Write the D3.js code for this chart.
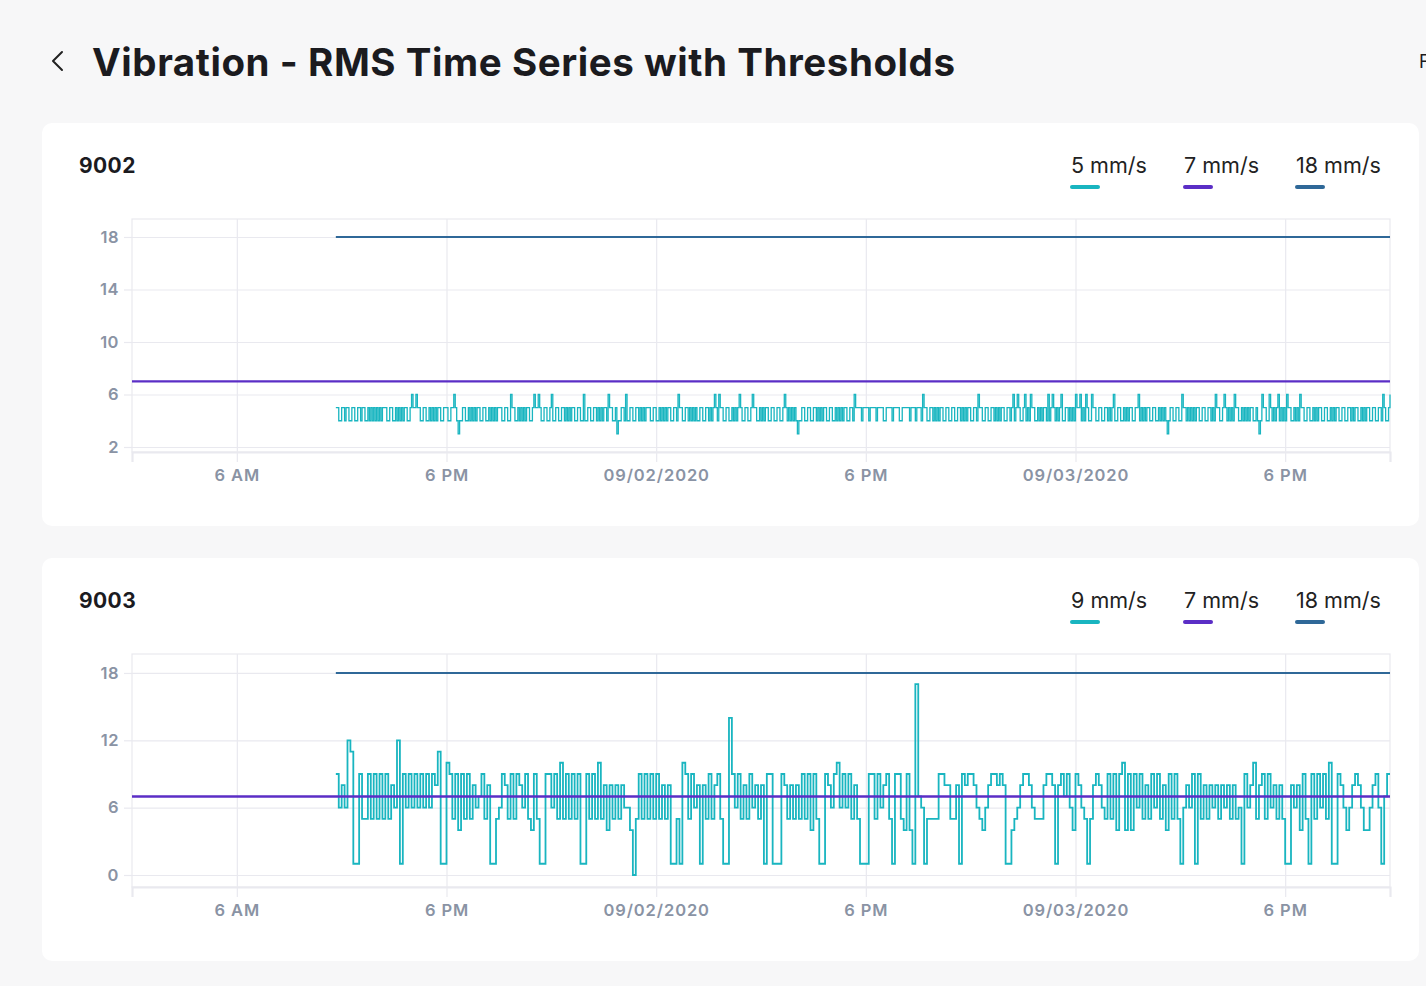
<!DOCTYPE html>
<html><head><meta charset="utf-8">
<script src="https://cdn.jsdelivr.net/npm/d3@7"></script>
<style>
html,body{margin:0;padding:0;background:#f7f7f8;overflow:hidden;}
svg{display:block;}
</style></head><body>
<svg id="c" width="1426" height="986"></svg>
<script>
// ---------- DATA ----------
const pageTitle = "Vibration - RMS Time Series with Thresholds";
const chartNames = ["9002", "9003"];
const xTickTimes = ["2020-09-01T06:00","2020-09-01T18:00","2020-09-02T06:00","2020-09-02T18:00","2020-09-03T06:00","2020-09-03T18:00"];
const xTickLabels = ["6 AM","6 PM","09/02/2020","6 PM","09/03/2020","6 PM"];
const xDomain = ["2020-09-01T00:00","2020-09-04T00:00"];
const sampleStart = "2020-09-01T11:40";
const sampleStep9002 = 5;   // minutes
const sampleStep9003 = 10;  // minutes

const yTicks9002 = [2, 6, 10, 14, 18];
const yTicks9003 = [0, 6, 12, 18];
const yDomain9002 = [1.62, 19.37];
const yDomain9003 = [-1.07, 19.69];

const legend9002 = ["5 mm/s", "7 mm/s", "18 mm/s"];
const legend9003 = ["9 mm/s", "7 mm/s", "18 mm/s"];

const thresholdValues = [7, 18];
const thresholdStarts = ["2020-09-01T00:00", "2020-09-01T11:40"];

const series9002 = [
5,5,4,4,5,5,4,5,5,4,4,5,5,4,4,5,5,4,5,5,4,4,5,4,5,
4,5,4,5,4,5,4,5,5,5,4,4,5,5,4,4,5,4,5,4,5,4,5,5,4,
4,5,6,5,5,6,5,5,4,4,5,5,4,4,5,4,5,4,5,4,5,5,4,4,5,
5,5,4,4,5,5,6,5,4,3,4,4,5,5,4,4,5,4,5,4,5,4,5,5,4,
4,5,5,4,4,5,4,5,4,5,4,5,5,5,4,4,5,5,4,4,6,5,5,4,4,
5,4,5,4,5,4,5,5,4,4,5,6,5,5,6,5,4,4,5,5,4,4,5,6,4,
4,5,5,4,4,5,5,4,5,4,5,4,5,5,4,4,5,5,4,4,6,4,4,5,5,
4,4,5,5,4,5,4,5,4,5,5,4,6,5,5,4,4,5,3,4,4,5,5,4,6,
4,4,5,5,4,4,5,5,4,5,4,5,4,5,5,5,4,4,5,5,4,4,5,4,5,
4,5,4,5,5,4,4,5,5,4,6,5,5,4,4,5,5,4,5,4,5,4,5,4,4,
5,5,4,4,5,5,4,5,4,5,6,5,4,6,5,5,4,4,5,5,4,4,5,4,5,
4,5,6,5,4,4,5,5,4,4,5,6,5,5,4,4,5,4,5,4,5,5,4,4,5,
5,4,4,5,5,4,4,5,6,5,4,5,4,5,4,5,4,3,4,4,5,5,4,4,5,
5,4,4,5,5,4,5,4,5,4,5,5,4,4,5,5,4,4,5,4,5,4,5,4,5,
5,4,4,5,5,4,6,5,5,5,5,4,5,5,5,5,4,5,5,5,5,4,5,5,5,
5,4,4,5,5,5,5,4,5,5,5,5,4,4,5,5,5,5,5,4,5,5,5,4,5,
5,5,4,6,5,5,4,4,5,5,4,5,4,5,4,5,5,4,4,5,5,4,4,5,5,
4,4,5,5,4,5,4,5,4,5,5,4,4,5,5,4,6,5,5,4,4,5,5,4,4,
5,5,4,5,4,5,4,5,5,4,4,5,5,4,5,6,4,5,6,5,4,4,5,6,4,
5,4,6,5,5,4,4,5,4,5,4,5,5,4,6,4,5,6,5,4,5,4,5,6,4,
4,5,5,4,5,4,5,4,6,5,5,6,4,5,4,6,5,4,4,6,5,5,4,4,5,
5,4,4,5,5,4,5,4,5,6,4,4,5,5,4,4,5,4,5,4,5,5,4,4,5,
5,6,4,5,4,5,4,5,5,4,4,5,5,4,4,5,4,5,4,5,4,3,4,5,5,
4,4,5,5,4,4,6,5,5,4,5,4,5,4,5,4,5,5,4,4,5,5,4,4,5,
5,4,5,4,6,5,5,4,4,5,6,5,4,5,4,5,4,6,5,5,4,4,5,4,5,
4,5,4,5,5,4,4,5,4,3,4,6,5,5,4,4,6,5,4,5,4,5,6,4,5,
4,5,4,6,5,5,4,4,5,4,5,4,6,5,5,4,4,5,5,4,4,5,4,5,4,
5,5,4,4,5,5,4,4,5,4,5,4,5,5,4,4,5,5,4,4,5,5,4,5,4,
5,5,4,4,5,4,5,4,5,5,4,4,5,5,4,4,5,5,4,6,5,4,4,5,6
];

const series9003 = [
9,6,8,6,12,11,1,1,9,5,
5,9,5,9,5,9,5,9,5,8,
6,12,1,9,6,9,6,9,6,9,
6,9,6,9,8,11,1,1,10,9,
5,9,4,9,5,9,5,8,6,7,
9,5,8,1,1,5,6,9,8,5,
9,5,9,8,6,9,5,4,9,5,
1,1,9,
9,6,9,5,10,5,9,5,9,5,
9,1,1,9,5,9,5,10,5,8,
4,8,5,8,5,8,6,6,4,0,
5,9,5,9,5,9,5,9,5,8,
5,8,1,1,5,1,10,9,5,9,
6,8,1,8,5,9,5,8,9,5,
1,1,14,9,6,9,5,8,5,9,
6,8,5,
8,1,9,9,1,1,1,9,8,5,
8,5,8,5,9,5,9,4,9,5,
1,1,9,8,6,9,10,6,9,6,
9,5,8,5,1,1,1,9,9,5,
9,6,8,9,5,1,9,9,5,4,
9,4,1,17,7,6,1,5,5,5,
5,9,9,8,8,5,5,8,1,9,
8,9,9,
8,6,5,4,6,8,9,9,8,9,
8,1,1,4,5,6,8,9,9,8,
6,5,5,5,8,9,9,8,1,8,
9,7,9,6,4,9,8,6,5,1,
5,8,9,8,6,5,9,5,9,4,
9,10,4,9,4,9,6,9,5,8,
5,9,6,9,5,8,4,9,5,9,
5,1,
6,8,6,9,1,9,5,8,5,8,
6,8,5,8,6,8,5,8,5,6,
1,9,6,8,10,5,8,9,5,9,
6,8,5,8,5,1,1,8,6,8,
4,9,5,1,9,5,9,6,9,5,
10,1,1,9,8,6,4,6,8,9,
8,6,4,4,6,8,9,6,1,7,
9,9
];

// ---------- STYLE ----------
const COLORS = { data: "#19b5c0", t7: "#5b2ec6", t18: "#2f6898", grid: "#e9e9ef", axisText: "#8a93a4", text: "#1b1b1f" };
const parse = d3.timeParse("%Y-%m-%dT%H:%M");

const svg = d3.select("#c");

// back chevron
svg.append("path").attr("d", "M62,52 L53,61 L62,70").attr("fill", "none")
  .attr("stroke", "#222").attr("stroke-width", 2).attr("stroke-linecap", "round").attr("stroke-linejoin", "round");

const title = svg.append("text").attr("x", 92).attr("y", 76)
  .attr("font-family", "Inter, 'Open Sans', sans-serif").attr("font-weight", 700)
  .attr("font-size", 38.5).attr("fill", COLORS.text).text(pageTitle);
const tw = title.node().getComputedTextLength();
const targetW = 863;
title.attr("letter-spacing", ((targetW - tw) / (pageTitle.length - 1)).toFixed(3));

svg.append("text").attr("x", 1419).attr("y", 68).attr("font-family", "Inter, sans-serif")
  .attr("font-size", 18).attr("fill", COLORS.text).text("F");

const charts = [
  { name: chartNames[0], top: 123, values: series9002, step: sampleStep9002, yDomain: yDomain9002, yTicks: yTicks9002, legend: legend9002, width: 1.3 },
  { name: chartNames[1], top: 558, values: series9003, step: sampleStep9003, yDomain: yDomain9003, yTicks: yTicks9003, legend: legend9003, width: 1.8 }
];

const legendColors = [COLORS.data, COLORS.t7, COLORS.t18];
const legendX = [1071, 1184, 1296];

const startT = parse(sampleStart);
const axisFont = "Inter, sans-serif";

charts.forEach((c) => {
  const g = svg.append("g");
  g.append("rect").attr("x", 42).attr("y", c.top).attr("width", 1377).attr("height", 403)
    .attr("rx", 10).attr("fill", "#fff");

  g.append("text").attr("x", 79).attr("y", c.top + 50).attr("font-family", "Inter, sans-serif")
    .attr("font-weight", 700).attr("font-size", 21).attr("letter-spacing", 0.4).attr("fill", COLORS.text).text(c.name);

  c.legend.forEach((lab, i) => {
    g.append("text").attr("x", legendX[i]).attr("y", c.top + 50).attr("font-family", "Inter, sans-serif")
      .attr("font-size", 21.5).attr("fill", "#222").text(lab);
    g.append("rect").attr("x", legendX[i] - 1).attr("y", c.top + 62).attr("width", 30).attr("height", 4)
      .attr("rx", 2).attr("fill", legendColors[i]);
  });

  const L = 132, R = 1390, T = c.top + 96, B = c.top + 329;
  const x = d3.scaleTime().domain(xDomain.map(parse)).range([L, R]);
  const y = d3.scaleLinear().domain(c.yDomain).range([B, T]);
  const tickT = xTickTimes.map(parse);

  // grid
  g.append("g").attr("transform", `translate(0,${B})`)
    .call(d3.axisBottom(x).tickValues(tickT).tickSizeInner(-(B - T)).tickSizeOuter(0).tickFormat(""))
    .call(s => s.select(".domain").remove())
    .call(s => s.selectAll("line").attr("stroke", COLORS.grid).attr("stroke-width", 1.2));
  g.append("g").attr("transform", `translate(${L},0)`)
    .call(d3.axisLeft(y).tickValues(c.yTicks).tickSizeInner(-(R - L)).tickSizeOuter(0).tickFormat(""))
    .call(s => s.select(".domain").remove())
    .call(s => s.selectAll("line").attr("stroke", COLORS.grid).attr("stroke-width", 1.2));

  // frame
  g.append("rect").attr("x", L).attr("y", T).attr("width", R - L).attr("height", B - T)
    .attr("fill", "none").attr("stroke", COLORS.grid).attr("stroke-width", 1.2);

  // axes with labels
  const xa = g.append("g").attr("transform", `translate(0,${B})`)
    .call(d3.axisBottom(x).tickValues(tickT).tickSize(10).tickPadding(7).tickFormat((d, i) => xTickLabels[i]));
  xa.select(".domain").attr("stroke", COLORS.grid).attr("stroke-width", 2.2);
  xa.selectAll("line").attr("stroke", COLORS.grid).attr("stroke-width", 1.2);
  xa.selectAll("text").attr("font-family", axisFont).attr("font-weight", 600)
    .attr("font-size", 16.5).attr("letter-spacing", 0.9).attr("fill", COLORS.axisText);

  const ya = g.append("g").attr("transform", `translate(${L},0)`)
    .call(d3.axisLeft(y).tickValues(c.yTicks).tickSize(8).tickPadding(5));
  ya.select(".domain").remove();
  ya.selectAll("line").attr("stroke", COLORS.grid).attr("stroke-width", 1.2);
  ya.selectAll("text").attr("font-family", axisFont).attr("font-weight", 600)
    .attr("font-size", 16.5).attr("letter-spacing", 0.5).attr("fill", COLORS.axisText);

  // data
  const pts = c.values.map((v, i) => ({ t: d3.timeMinute.offset(startT, i * c.step), v }));
  const line = d3.line().x(d => x(d.t)).y(d => y(d.v)).curve(d3.curveStepAfter);
  g.append("path").datum(pts).attr("d", line).attr("fill", "none")
    .attr("stroke", COLORS.data).attr("stroke-width", c.width).attr("stroke-linejoin", "miter");

  // thresholds
  const tColors = [COLORS.t7, COLORS.t18];
  const tWidths = [2.4, 2];
  thresholdValues.forEach((tv, i) => {
    const seg = [{ t: parse(thresholdStarts[i]), v: tv }, { t: parse(xDomain[1]), v: tv }];
    g.append("path").datum(seg).attr("d", d3.line().x(d => x(d.t)).y(d => y(d.v)))
      .attr("fill", "none").attr("stroke", tColors[i]).attr("stroke-width", tWidths[i]);
  });
});
</script>
</body></html>
